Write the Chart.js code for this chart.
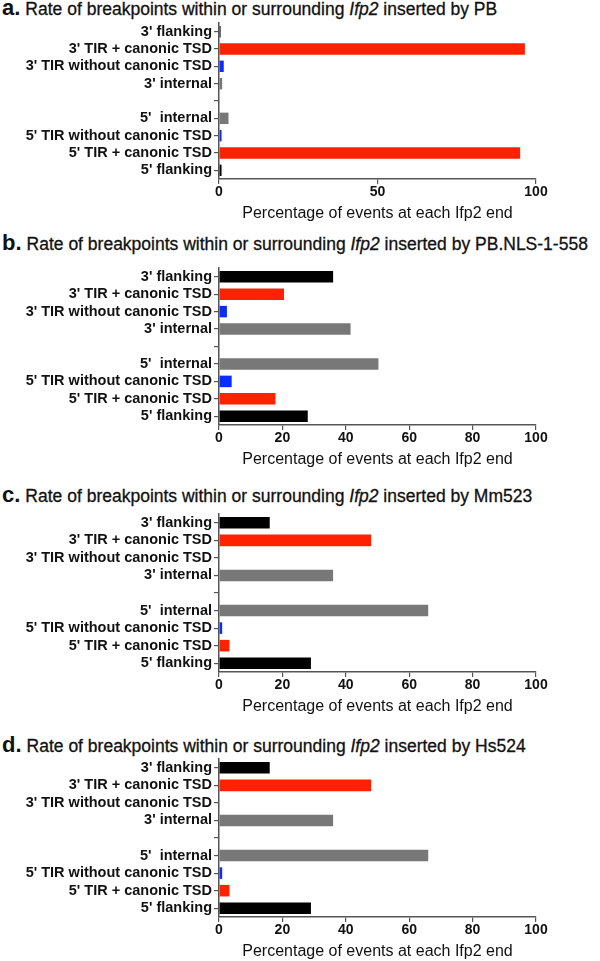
<!DOCTYPE html>
<html>
<head>
<meta charset="utf-8">
<script src="https://cdn.jsdelivr.net/npm/chart.js@4"></script>
<style>
  body { margin: 0; background: #fff; width: 600px; height: 961px; position: relative; overflow: hidden; }
  .title { position: absolute; left: 2px; font-family: "Liberation Sans", Arial, sans-serif; font-size: 17.5px; color: #111; white-space: nowrap; line-height: 22px; -webkit-text-stroke: 0.3px #111; }
  .title b { font-size: 22px; margin-right: 5px; -webkit-text-stroke: 0; }
  .panel { position: absolute; left: 0; width: 600px; }
</style>
</head>
<body>
<div class="title" style="top:-3px"><b>a.</b>Rate of breakpoints within or surrounding <i>Ifp2</i> inserted by PB</div>
<div class="panel" style="top:21px;height:206px"><canvas id="chartA"></canvas></div>
<div class="title" style="top:232px"><b>b.</b>Rate of breakpoints within or surrounding <i>Ifp2</i> inserted by PB.NLS-1-558</div>
<div class="panel" style="top:266px;height:207px"><canvas id="chartB"></canvas></div>
<div class="title" style="top:484px"><b>c.</b>Rate of breakpoints within or surrounding <i>Ifp2</i> inserted by Mm523</div>
<div class="panel" style="top:512px;height:208px"><canvas id="chartC"></canvas></div>
<div class="title" style="top:734px"><b>d.</b>Rate of breakpoints within or surrounding <i>Ifp2</i> inserted by Hs524</div>
<div class="panel" style="top:757px;height:208px"><canvas id="chartD"></canvas></div>
<script>
// categories, top to bottom ('' is the gap between 3' and 5' ends)
const categories = ["3' flanking", "3' TIR + canonic TSD", "3' TIR without canonic TSD", "3' internal", '',
                    "5'  internal", "5' TIR without canonic TSD", "5' TIR + canonic TSD", "5' flanking"];

// percentage of events
const valuesPB      = [0.5, 96.5, 1.5, 1.0, null, 3.0, 0.8, 95.0, 0.8];
const valuesPBNLS   = [36.0, 20.5, 2.5, 41.5, null, 50.3, 4.0, 17.8, 28.0];
const valuesMm523   = [16.0, 48.0, 0, 36.0, null, 66.0, 1.0, 3.3, 29.0];
const valuesHs524   = [16.0, 48.0, 0, 36.0, null, 66.0, 1.0, 3.3, 29.0];

const barColors = ['#000000', '#ff2200', '#0a2cff', '#787878', 'rgba(0,0,0,0)',
                   '#787878', '#0a2cff', '#ff2200', '#000000'];

Chart.defaults.font.family = '"Liberation Sans", Arial, sans-serif';
Chart.defaults.color = '#111';
Chart.defaults.animation = false;

function makeChart(id, values, step) {
    const ctx = document.getElementById(id);
    new Chart(ctx, {
        type: 'bar',
        data: {
            labels: categories,
            datasets: [{
                data: values,
                backgroundColor: barColors,
                borderWidth: 0,
                barPercentage: 0.66,
                categoryPercentage: 1.0
            }]
        },
        options: {
            indexAxis: 'y',
            responsive: true,
            maintainAspectRatio: false,
            layout: { padding: { top: 2, right: 64, left: 0, bottom: 0 } },
            plugins: {
                legend: { display: false },
                tooltip: { enabled: false }
            },
            scales: {
                y: {
                    afterFit: function(scale) {
                        scale.width = 219;
                        // labels sit inside the offset bands, no extra room needed
                        scale.paddingTop = 0;
                        scale.paddingBottom = 0;
                    },
                    grid: { drawOnChartArea: false, drawTicks: true, tickLength: 5, offset: false, color: '#555', lineWidth: 1.2 },
                    border: { color: '#555', width: 1.5 },
                    ticks: { font: { size: 14.5, weight: 'bold' }, padding: 2, color: '#111', autoSkip: false }
                },
                x: {
                    min: 0,
                    max: 100,
                    afterFit: function(scale) { scale.height = 48; },
                    grid: { drawOnChartArea: false, drawTicks: true, tickLength: 5, color: '#555', lineWidth: 1.2 },
                    border: { color: '#555', width: 1.5 },
                    ticks: { stepSize: step, font: { size: 14, weight: 'bold' }, padding: 0, color: '#111', maxRotation: 0 },
                    title: {
                        display: true,
                        text: 'Percentage of events at each Ifp2 end',
                        font: { size: 16 },
                        color: '#111',
                        padding: { top: 4, bottom: 4 }
                    }
                }
            }
        }
    });
}

makeChart('chartA', valuesPB, 50);
makeChart('chartB', valuesPBNLS, 20);
makeChart('chartC', valuesMm523, 20);
makeChart('chartD', valuesHs524, 20);
</script>
</body>
</html>
